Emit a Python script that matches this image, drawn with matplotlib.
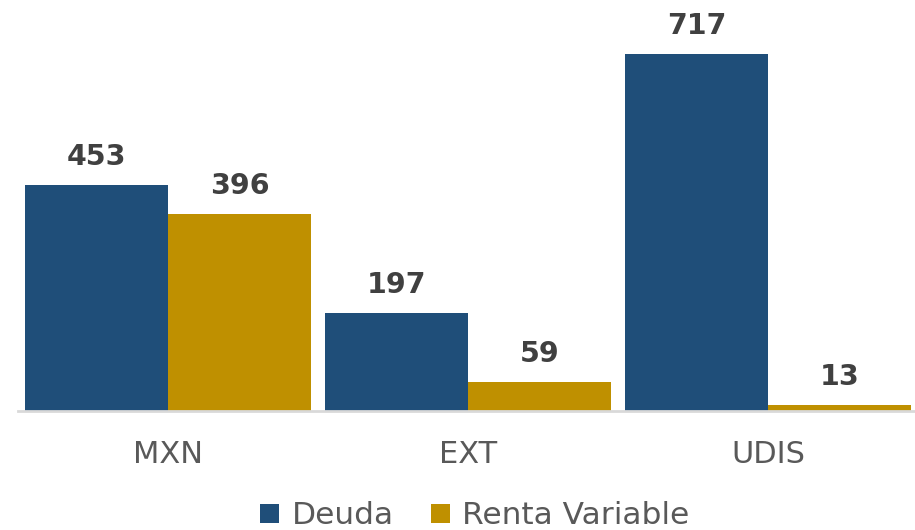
import numpy as np
from matplotlib import pyplot as plt

categories = ['MXN', 'EXT', 'UDIS']
deuda = [453, 197, 717]
renta_variable = [396, 59, 13]

BLUE = '#1F4E79'
GOLD = '#BF9000'
GRAY = '#595959'

plt.rcParams['font.family'] = ['DejaVu Sans']

fig = plt.figure(figsize=(9.15, 5.3), dpi=100)
ax = fig.add_axes([18 / 915, 119 / 530, 900 / 915, 411 / 530])

x = np.arange(len(categories))
w = 0.477
b1 = ax.bar(x - w / 2, deuda, w, color=BLUE, label='Deuda')
b2 = ax.bar(x + w / 2, renta_variable, w, color=GOLD, label='Renta Variable')

for bars in (b1, b2):
    for bar in bars:
        ax.annotate(f'{bar.get_height():.0f}',
                    (bar.get_x() + bar.get_width() / 2, bar.get_height()),
                    xytext=(0, 10), textcoords='offset points',
                    ha='center', va='bottom', fontsize=20.5, fontweight='bold',
                    color='#404040')

ax.set_xlim(-0.5, 2.5)
ax.set_ylim(0, 825)
ax.set_xticks(x)
ax.set_xticklabels(categories, fontsize=22, color=GRAY)
ax.tick_params(axis='x', length=0, pad=21)
ax.set_yticks([])
for side in ('top', 'right', 'left'):
    ax.spines[side].set_visible(False)
ax.spines['bottom'].set_color('#D9D9D9')
ax.spines['bottom'].set_linewidth(2)

leg = fig.legend(loc='center', bbox_to_anchor=(475 / 915, 14 / 530), ncol=2,
                 frameon=False, fontsize=22.5, handlelength=0.6, handleheight=0.6,
                 handletextpad=0.4, columnspacing=1.2)
for t in leg.get_texts():
    t.set_color(GRAY)

fig.savefig('out.png', dpi=100)
